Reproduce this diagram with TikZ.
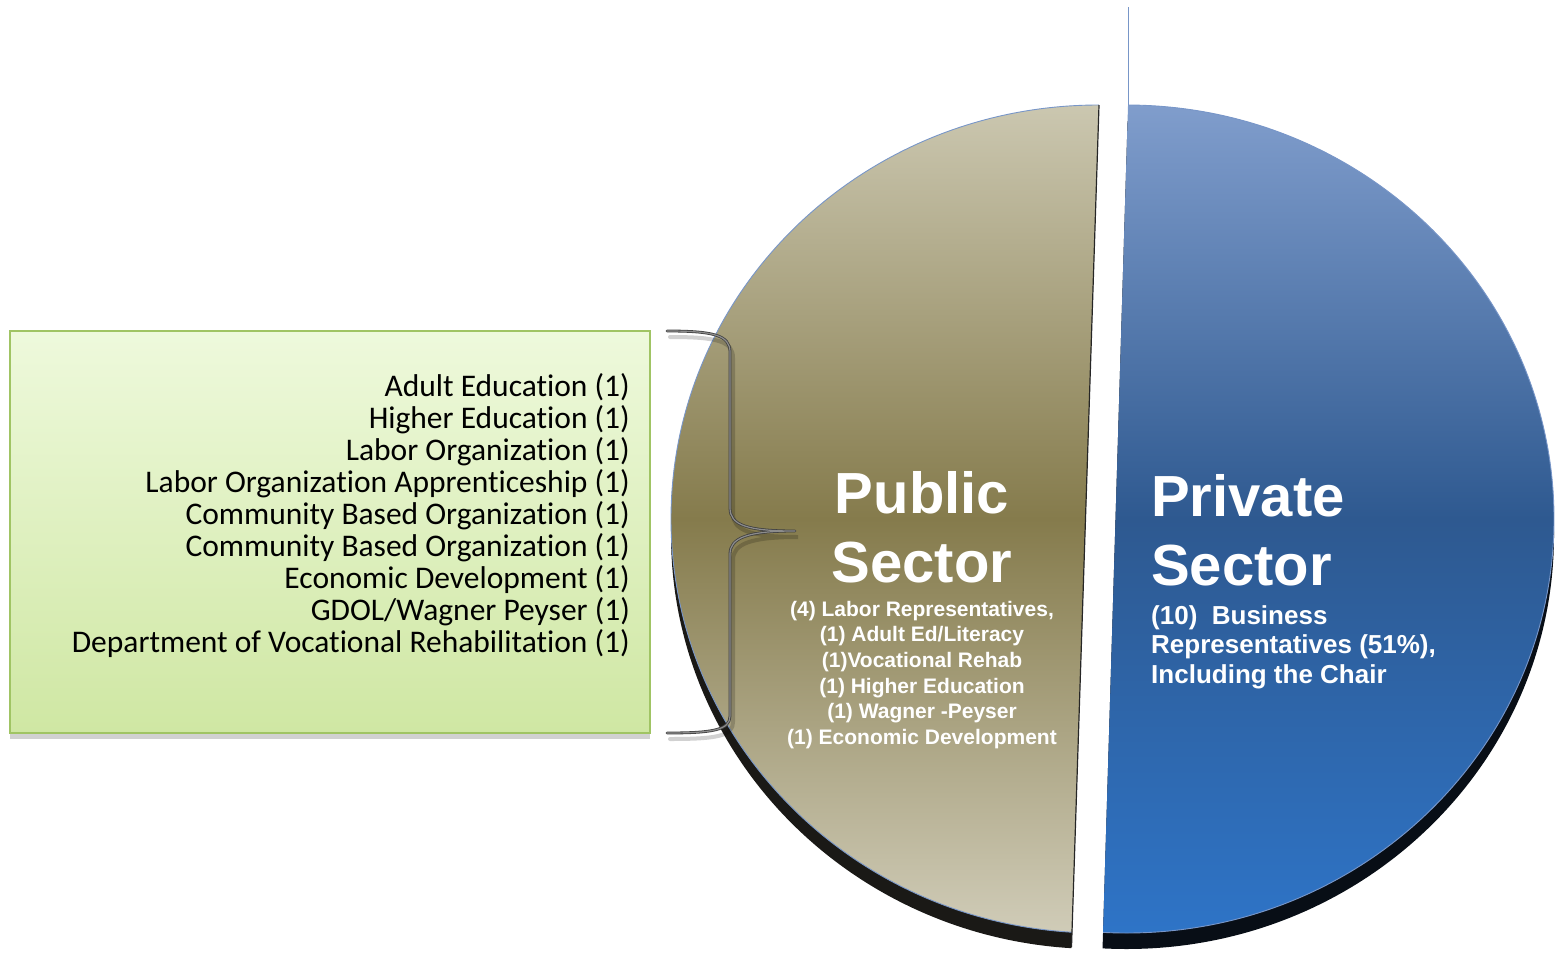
\documentclass[tikz,border=0pt]{standalone}
\usepackage{fontspec}
\setmainfont{Liberation Sans}
\newfontfamily\boxfont[Ligatures=NoCommon]{Carlito}
\usetikzlibrary{shadows}
\definecolor{tanTop}{RGB}{203,199,176}
\definecolor{tanMid}{RGB}{133,123,76}
\definecolor{tanBot}{RGB}{208,204,184}
\definecolor{bluTop}{RGB}{128,157,204}
\definecolor{bluMid}{RGB}{46,89,144}
\definecolor{bluBot}{RGB}{46,116,199}
\definecolor{sideL}{RGB}{26,25,22}
\definecolor{sideR}{RGB}{8,14,22}
\definecolor{edgeBlue}{RGB}{120,150,200}
\definecolor{boxLine}{RGB}{160,196,100}
\definecolor{boxTop}{RGB}{238,249,220}
\definecolor{boxBot}{RGB}{207,231,163}
\tikzset{
  pietitle/.style={text=white, font=\fontsize{58}{69}\selectfont\bfseries, inner sep=0pt},
  piesub/.style={text=white, font=\fontsize{21}{25.7}\selectfont\bfseries, inner sep=0pt},
  privsub/.style={text=white, font=\fontsize{26}{29.8}\selectfont\bfseries, inner sep=0pt},
  listbox/.style={draw=boxLine, line width=1.5pt, top color=boxTop, bottom color=boxBot,
     minimum width=640pt, minimum height=402pt, inner sep=0pt,
     drop shadow={shadow xshift=0pt, shadow yshift=-6pt, opacity=0.3, fill=black!60}},
  listtext/.style={font=\boxfont\fontsize{31.5}{32}\selectfont, align=right, inner sep=0pt},
  bracestyle/.style={draw=black!75, line width=0.8pt, double=black!45, double distance=1.2pt,
     line cap=round, line join=round},
  braceshadow/.style={draw=black, opacity=0.18, line width=4pt, line cap=round},
  pieedge/.style={draw=edgeBlue, line width=0.9pt}
}
\begin{document}
\begin{tikzpicture}[x=1pt,y=-1pt]
\useasboundingbox (0,0) rectangle (1555,953);

% thin vertical line at top
\coordinate (vt) at (1128,7);
\coordinate (vb) at (1128,105);
\draw[edgeBlue, line width=1pt] (vt) -- (vb);

% ---- left (public) piece ----
\begin{scope}
  \clip (0,0) -- (1102.4,0) -- (1071.3,953) -- (0,953) -- cycle;
  \fill[sideL] (1098.5,535) ellipse [x radius=427.5, y radius=414];
  \shade[top color=tanTop, bottom color=tanBot, middle color=tanMid]
     (1098.5,519) ellipse [x radius=427.5, y radius=414];
  \draw[pieedge] (1098.5,519) ellipse [x radius=427.5, y radius=414];
\end{scope}
\coordinate (lt) at (1099,105);
\coordinate (lb) at (1071.5,947);
\draw[black!85, line width=1.2pt] (lt) -- (lb);

% ---- right (private) piece ----
\begin{scope}
  \clip (1131.2,0) -- (1555,0) -- (1555,953) -- (1102.4,953) -- cycle;
  \fill[sideR] (1126.5,535) ellipse [x radius=427.5, y radius=414];
  \shade[top color=bluTop, bottom color=bluBot, middle color=bluMid]
     (1126.5,519) ellipse [x radius=427.5, y radius=414];
  \draw[pieedge] (1126.5,519) ellipse [x radius=427.5, y radius=414];
\end{scope}

% ---- green box ----
\node[listbox] (box) at (330,532) {};
\node[listtext, anchor=east] (list) at (630,516) {%
Adult Education (1)\\
Higher Education (1)\\
Labor Organization (1)\\
Labor Organization Apprenticeship (1)\\
Community Based Organization (1)\\
Community Based Organization (1)\\
Economic Development (1)\\
GDOL/Wagner Peyser (1)\\
Department of Vocational Rehabilitation (1)};

% ---- brace ----
\coordinate (bt) at (667,331);
\coordinate (btip) at (795,531);
\coordinate (bb) at (667,733);
\draw[braceshadow] ([shift={(3,6)}]bt) .. controls (717,337) and (733,341) .. (733,358) -- (733,514)
   .. controls (733,530) and (750,537) .. (798,537)
   .. controls (750,537) and (733,544) .. (733,560) -- (733,722)
   .. controls (733,736) and (717,739) .. ([shift={(3,6)}]bb);
\draw[bracestyle] (bt) .. controls (713,331) and (730,335) .. (730,352) -- (730,508)
   .. controls (730,525) and (747,531) .. (btip)
   .. controls (747,531) and (730,538) .. (730,554) -- (730,716)
   .. controls (730,730) and (713,733) .. (bb);

% ---- pie texts ----
\node[pietitle, align=center] (pub) at (922,527) {Public\\Sector};
\node[piesub, align=center] (pubsub) at (922,675) {%
(4) Labor Representatives,\\
(1) Adult Ed/Literacy\\
(1)Vocational Rehab\\
(1) Higher Education\\
(1) Wagner -Peyser\\
(1) Economic Development};
\node[pietitle, align=left, anchor=north west] (priv) at (1151,474) {Private\\Sector};
\node[privsub, align=left, anchor=north west] (privsub) at (1151,605) {%
(10)\ \ Business\\
Representatives (51\%),\\
Including the Chair};
\end{tikzpicture}
\end{document}
